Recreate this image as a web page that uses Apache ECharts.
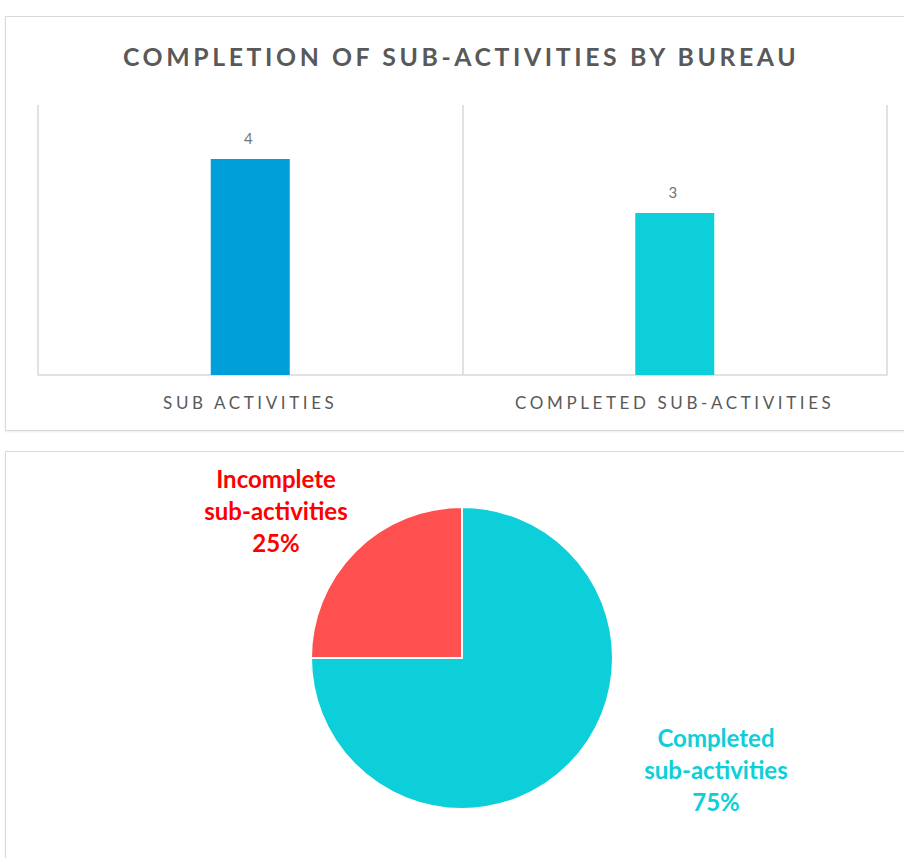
<!DOCTYPE html>
<html>
<head>
<meta charset="utf-8">
<script src="https://cdn.jsdelivr.net/npm/echarts@6/dist/echarts.min.js"></script>
<style>
body { margin: 0; background: #fff; overflow: hidden; }
.panel {
    position: absolute;
    box-sizing: border-box;
    border: 1.5px solid #d9d9d9;
    box-shadow: 0 1px 2px rgba(0, 0, 0, 0.08);
    background: #fff;
}
#topPanel { left: 5px; top: 16px; width: 930px; height: 415px; }
#bottomPanel { left: 5px; top: 451px; width: 930px; height: 430px; }
#barChart { position: absolute; left: 0; top: 0; width: 904px; height: 440px; letter-spacing: 3.6px; }
#pieChart { position: absolute; left: 0; top: 440px; width: 904px; height: 418px; }
</style>
</head>
<body>
<div id="topPanel" class="panel"></div>
<div id="bottomPanel" class="panel"></div>
<div id="barChart"></div>
<div id="pieChart"></div>
<script>
// bar data
const barCategories = ['SUB ACTIVITIES', 'COMPLETED SUB-ACTIVITIES'];
const barValues = [4, 3];
const barColors = ['#009fd9', '#0dcfd9'];

// pie data
const pieNames = ['Completed sub-activities', 'Incomplete sub-activities'];
const pieValues = [3, 1];
const pieColors = ['#0dcfd9', '#ff5050'];
const pieLabelColors = ['#0dcfd9', '#ff0000'];

const fontName = 'Lato, "Open Sans", sans-serif';

function makeBar() {
    let myChart = echarts.init(document.getElementById('barChart'), null, { renderer: 'svg' });
    let option = {
        animation: false,
        title: {
            text: 'COMPLETION OF SUB-ACTIVITIES BY BUREAU',
            left: 118,
            top: 39,
            textStyle: {
                fontFamily: fontName,
                fontWeight: 'bold',
                fontSize: 24.8,
                color: '#595959'
            }
        },
        grid: {
            left: 38,
            right: 17,
            top: 105,
            bottom: 65
        },
        xAxis: {
            type: 'category',
            data: barCategories,
            axisLine: { lineStyle: { color: '#d9d9d9', width: 1.5 } },
            axisTick: { show: false },
            splitLine: { show: true, lineStyle: { color: '#d9d9d9', width: 1.5 } },
            axisLabel: {
                margin: 19,
                fontFamily: fontName,
                fontSize: 17,
                color: '#595959'
            }
        },
        yAxis: {
            type: 'value',
            min: 0,
            max: 5,
            show: false
        },
        series: [
            {
                type: 'bar',
                barWidth: 79,
                data: barValues.map((v, i) => ({ value: v, itemStyle: { color: barColors[i] } })),
                label: {
                    show: true,
                    position: 'top',
                    distance: 14,
                    fontFamily: fontName,
                    fontSize: 15,
                    color: '#757575'
                }
            }
        ]
    };
    myChart.setOption(option);
}

function makePie() {
    let myChart = echarts.init(document.getElementById('pieChart'), null, { renderer: 'svg' });
    // label centres, in px of this chart
    const labelSpots = [[716, 329], [276, 70]];
    let option = {
        animation: false,
        series: [
            {
                type: 'pie',
                center: [462, 218],
                radius: 151,
                startAngle: 90,
                clockwise: true,
                data: pieValues.map((v, i) => ({
                    name: pieNames[i],
                    value: v,
                    itemStyle: { color: pieColors[i] },
                    label: { color: pieLabelColors[i] }
                })),
                itemStyle: { borderColor: '#fff', borderWidth: 2 },
                labelLine: { show: false },
                label: {
                    show: true,
                    position: 'outside',
                    formatter: (p) => p.name.replace(' ', '\n') + '\n' + p.percent + '%',
                    fontFamily: fontName,
                    fontWeight: 'bold',
                    fontSize: 24,
                    lineHeight: 32,
                    align: 'center'
                },
                labelLayout: function (params) {
                    let spot = labelSpots[params.dataIndex];
                    return {
                        x: spot[0],
                        y: spot[1],
                        align: 'center',
                        verticalAlign: 'middle'
                    };
                }
            }
        ]
    };
    myChart.setOption(option);
}

makeBar();
makePie();
</script>
</body>
</html>
